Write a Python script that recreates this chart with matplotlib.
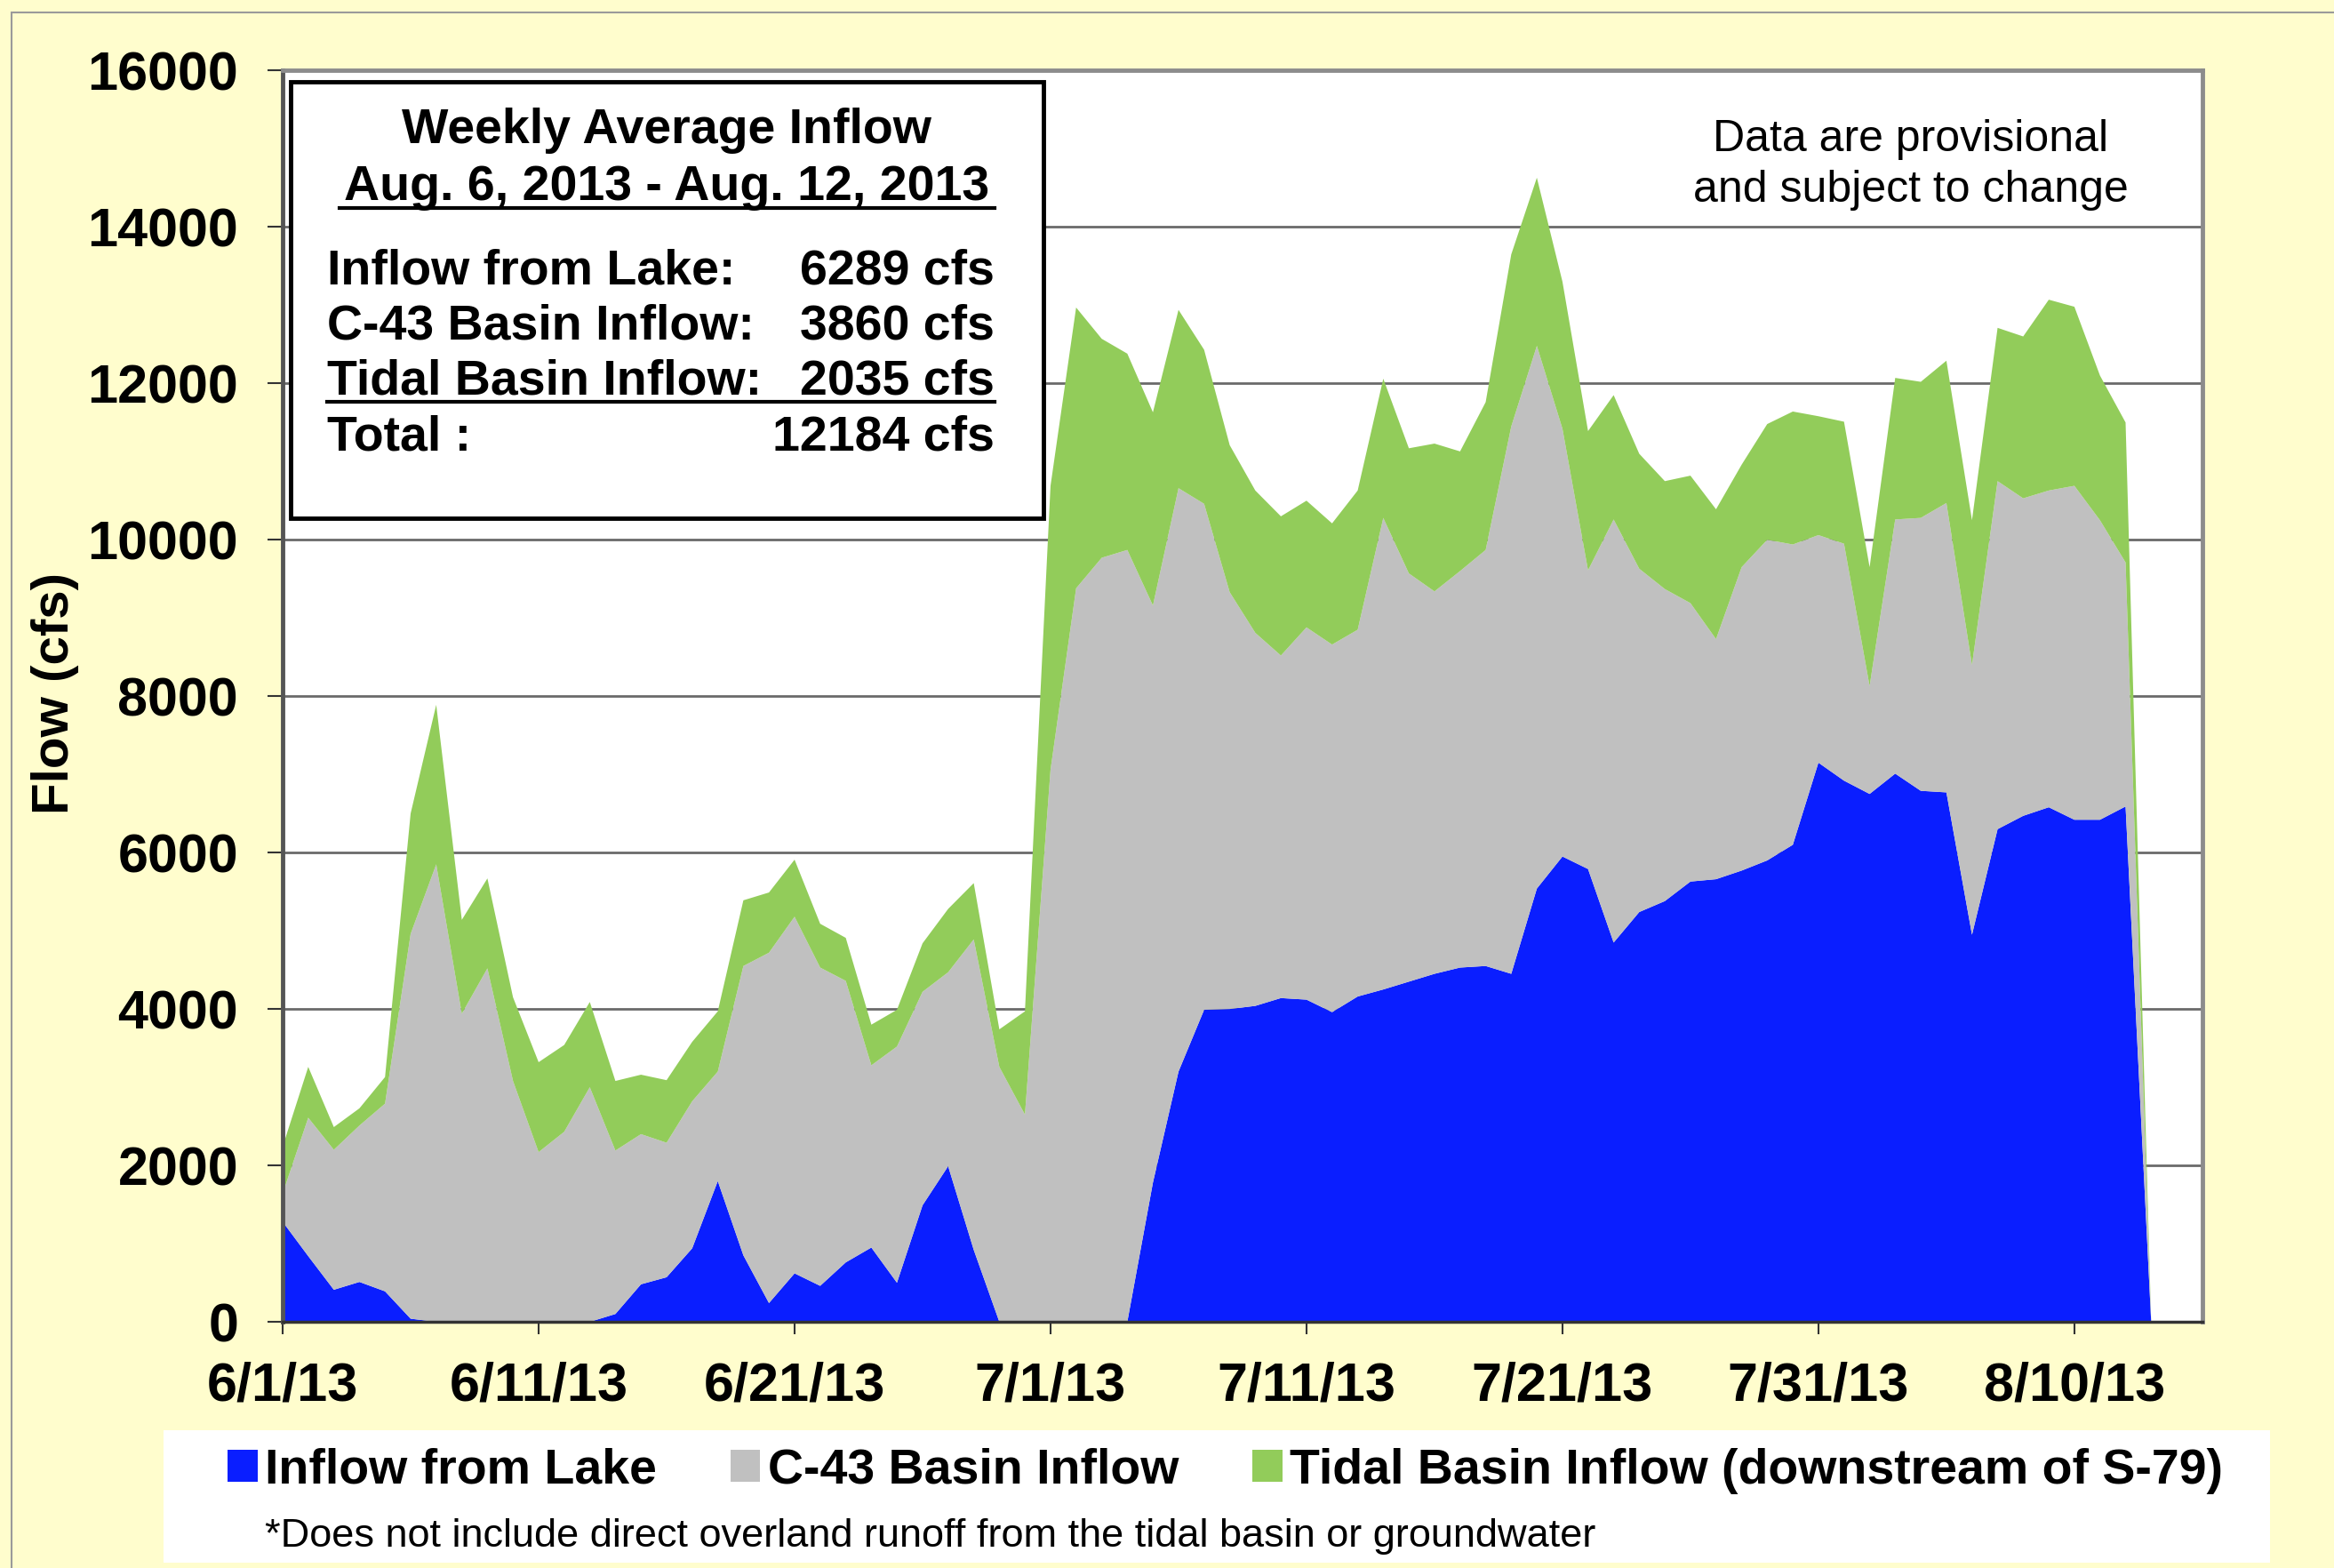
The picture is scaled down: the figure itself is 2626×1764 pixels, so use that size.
import matplotlib
matplotlib.use("Agg")
import matplotlib.pyplot as plt
from matplotlib.patches import Rectangle, Patch
from matplotlib.lines import Line2D
import pandas as pd

plt.rcParams['font.family'] = ['Liberation Sans', 'DejaVu Sans']

# daily flows, 6/1/13 .. 8/13/13 (cfs)
dates = pd.date_range("2013-06-01", "2013-08-13", freq="D")

lake = [1280, 840, 410, 510, 390, 40, 0, 0, 0, 0,
        0, 0, 0, 100, 480, 570, 940, 1800, 850, 240,
        620, 460, 760, 950, 500, 1490, 1990, 920, 0, 0,
        0, 0, 0, 0, 1780, 3200, 3990, 4000, 4040, 4140,
        4120, 3960, 4160, 4250, 4350, 4450, 4530, 4550, 4450, 5540,
        5950, 5790, 4850, 5240, 5380, 5630, 5660, 5770, 5900, 6100,
        7150, 6920, 6750, 7010, 6790, 6770, 4950, 6300, 6470, 6580,
        6420, 6420, 6590, 0]

c43 = [360, 1770, 1790, 2000, 2400, 4920, 5850, 3940, 4520, 3080,
       2170, 2430, 3000, 2090, 1920, 1720, 1880, 1400, 3700, 4480,
       4560, 4070, 3600, 2330, 3020, 2730, 2480, 3970, 3260, 2650,
       7060, 9380, 9770, 9870, 7380, 7460, 6470, 5330, 4770, 4380,
       4760, 4700, 4690, 6030, 5220, 4890, 5070, 5320, 7000, 6940,
       5470, 3820, 5410, 4390, 3990, 3560, 3070, 3880, 4100, 3840,
       2910, 3030, 1380, 3250, 3490, 3700, 3450, 4450, 4060, 4050,
       4270, 3830, 3120, 0]

tidal = [600, 650, 290, 220, 340, 1540, 2040, 1200, 1150, 1070,
         1150, 1110, 1090, 890, 760, 800, 760, 770, 840, 770,
         730, 560, 550, 520, 470, 620, 810, 720, 480, 1320,
         3630, 3590, 2800, 2510, 2470, 2280, 1970, 1880, 1820, 1780,
         1620, 1550, 1780, 1780, 1600, 1890, 1530, 1890, 2200, 2150,
         1880, 1780, 1590, 1470, 1380, 1630, 1660, 1310, 1480, 1700,
         1520, 1560, 1520, 1810, 1740, 1820, 1850, 1960, 2070, 2440,
         2290, 1850, 1790, 0]

tick_dates = pd.to_datetime(["2013-06-01", "2013-06-11", "2013-06-21", "2013-07-01",
                             "2013-07-11", "2013-07-21", "2013-07-31", "2013-08-10"])
tick_labels = ["6/1/13", "6/11/13", "6/21/13", "7/1/13", "7/11/13", "7/21/13", "7/31/13", "8/10/13"]
y_ticks = [0, 2000, 4000, 6000, 8000, 10000, 12000, 14000, 16000]

series_names = ["Inflow from Lake", "C-43 Basin Inflow", "Tidal Basin Inflow (downstream of S-79)"]
colors = ["#0A1EFF", "#C0C0C0", "#92CC5A"]

weekly_rows = [("Inflow from Lake:", "6289 cfs"),
               ("C-43 Basin Inflow:", "3860 cfs"),
               ("Tidal Basin Inflow:", "2035 cfs"),
               ("Total :", "12184 cfs")]

fig = plt.figure(figsize=(26.26, 17.64), dpi=100, facecolor="#FFFDCD")

# outer frame
fig.patches.append(Rectangle((0.005, -0.01), 1.0, 1.002, transform=fig.transFigure,
                             fill=False, edgecolor="#9a9a9a", lw=1.5))

ax = fig.add_axes([0.1211, 0.157, 0.8225, 0.798])
ax.set_facecolor("white")
ax.stackplot(dates, lake, c43, tidal, colors=colors, linewidth=0, zorder=2)
ax.set_xlim(dates[0], pd.Timestamp("2013-08-15"))
ax.set_ylim(0, 16000)

ax.set_axisbelow(True)
ax.yaxis.grid(True, color="#6a6a6a", lw=2, zorder=1)
ax.set_yticks(y_ticks)
ax.set_yticklabels([str(v) for v in y_ticks], fontsize=44, fontweight="bold")
ax.set_xticks(tick_dates)
ax.set_xticklabels(tick_labels, fontsize=44, fontweight="bold")
ax.tick_params(axis="y", length=12, width=1.5, pad=24, color="#333333")
ax.tick_params(axis="x", length=10, width=1.5, pad=22, color="#333333")

for side in ["top", "right"]:
    ax.spines[side].set_color("#8c8c8c")
    ax.spines[side].set_linewidth(3.5)
ax.spines["left"].set_color("#555555")
ax.spines["left"].set_linewidth(3.5)
ax.spines["bottom"].set_color("#333333")
ax.spines["bottom"].set_linewidth(2.5)

fig.text(0.0236, 0.5578, "Flow (cfs)", rotation=90, fontsize=42, fontweight="bold",
         ha="center", va="center")

# weekly summary box
fig.patches.append(Rectangle((0.1245, 0.6695), 0.3226, 0.2783, transform=fig.transFigure,
                             facecolor="white", edgecolor="black", lw=3.5, zorder=5))
fig.text(0.2856, 0.9165, "Weekly Average Inflow", fontsize=40, fontweight="bold",
         ha="center", va="center", zorder=6)
fig.text(0.2856, 0.8802, "Aug. 6, 2013 - Aug. 12, 2013", fontsize=40, fontweight="bold",
         ha="center", va="center", zorder=6)
fig.lines.append(Line2D([0.1455, 0.4261], [0.8672, 0.8672], transform=fig.transFigure,
                        color="black", lw=3, zorder=6))
row_y = [0.8269, 0.7918, 0.7566, 0.7209]
for (label, value), y in zip(weekly_rows, row_y):
    fig.text(0.1401, y, label, fontsize=40, fontweight="bold", ha="left", va="center", zorder=6)
    fig.text(0.4261, y, value, fontsize=40, fontweight="bold", ha="right", va="center", zorder=6)
fig.lines.append(Line2D([0.1401, 0.4261], [0.7436, 0.7436], transform=fig.transFigure,
                        color="black", lw=3, zorder=6))

fig.text(0.8187, 0.9110, "Data are provisional", fontsize=36, ha="center", va="center")
fig.text(0.8187, 0.8787, "and subject to change", fontsize=36, ha="center", va="center")

# legend area
fig.patches.append(Rectangle((0.070, 0.0034), 0.9026, 0.0846, transform=fig.transFigure,
                             facecolor="white", edgecolor="none"))
handles = [Patch(facecolor=c, edgecolor="none", label=n) for c, n in zip(colors, series_names)]
fig.legend(handles=handles, loc="center", bbox_to_anchor=(0.525, 0.062), ncol=3,
           frameon=False, handlelength=0.6, handleheight=0.6, handletextpad=0.15,
           columnspacing=1.5, prop={"size": 40, "weight": "bold"})
fig.text(0.1135, 0.0204,
         "*Does not include direct overland runoff from the tidal basin or groundwater",
         fontsize=32.5, ha="left", va="center")

fig.savefig("out.png", dpi=100, facecolor=fig.get_facecolor())
